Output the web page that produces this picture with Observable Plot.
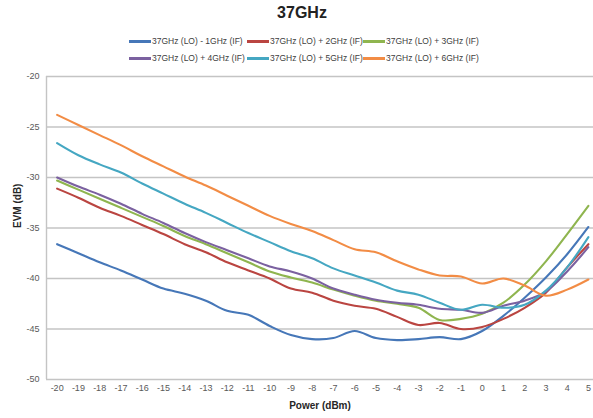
<!DOCTYPE html>
<html>
<head>
<meta charset="utf-8">
<script src="https://cdn.jsdelivr.net/npm/d3@7"></script>
<script src="https://cdn.jsdelivr.net/npm/@observablehq/plot@0.6"></script>
<style>
  html, body { margin: 0; padding: 0; background: #fff; }
  #wrap { position: relative; width: 593px; height: 418px; font-family: "Liberation Sans", Arial, sans-serif; overflow: hidden; }
  #title { position: absolute; left: 0; width: 604px; top: 4px; text-align: center; font-weight: bold; font-size: 16px; color: #222; }
  .leg { position: absolute; height: 12px; font-size: 8.5px; color: #404040; white-space: nowrap; }
  .leg .sw { position: absolute; left: 0; top: 5px; width: 22px; height: 3px; }
  .leg .tx { position: absolute; left: 23px; top: 0; line-height: 12px; }
  #chart { position: absolute; left: 0; top: 66px; }
</style>
</head>
<body>
<div id="wrap">
  <div id="title">37GHz</div>
  <div id="legend"></div>
  <div id="chart"></div>
</div>
<script>
const powers = [-20,-19,-18,-17,-16,-15,-14,-13,-12,-11,-10,-9,-8,-7,-6,-5,-4,-3,-2,-1,0,1,2,3,4,5];
const seriesNames = [
  "37GHz (LO) - 1GHz (IF)",
  "37GHz (LO) + 2GHz (IF)",
  "37GHz (LO) + 3GHz (IF)",
  "37GHz (LO) + 4GHz (IF)",
  "37GHz (LO) + 5GHz (IF)",
  "37GHz (LO) + 6GHz (IF)"
];
const seriesColors = ["#4677B8", "#BA4541", "#8FB54F", "#7B61A0", "#45A7C2", "#F28C45"];
const evm1GHz = [-36.6,-37.5,-38.4,-39.2,-40.1,-41.0,-41.5,-42.2,-43.2,-43.6,-44.7,-45.6,-46.0,-45.9,-45.2,-45.9,-46.1,-46.0,-45.8,-46.0,-45.2,-43.7,-41.9,-39.9,-37.6,-34.9];
const evm2GHz = [-31.1,-32.0,-33.0,-33.8,-34.7,-35.6,-36.6,-37.4,-38.4,-39.2,-40.0,-41.0,-41.4,-42.2,-42.7,-43.0,-43.8,-44.6,-44.4,-45.0,-44.8,-44.0,-42.9,-41.4,-38.9,-36.6];
const evm3GHz = [-30.3,-31.2,-32.1,-33.0,-33.9,-34.8,-35.8,-36.6,-37.5,-38.4,-39.3,-39.9,-40.4,-41.1,-41.7,-42.2,-42.5,-42.9,-44.1,-44.0,-43.5,-42.4,-40.6,-38.3,-35.6,-32.8];
const evm4GHz = [-30.0,-30.9,-31.7,-32.6,-33.6,-34.5,-35.5,-36.4,-37.2,-38.0,-38.8,-39.3,-40.0,-41.0,-41.6,-42.1,-42.4,-42.6,-43.0,-43.1,-43.4,-42.7,-42.2,-41.3,-39.3,-36.9];
const evm5GHz = [-26.6,-27.8,-28.7,-29.5,-30.6,-31.6,-32.6,-33.5,-34.5,-35.5,-36.4,-37.3,-38.0,-39.0,-39.7,-40.4,-41.2,-41.6,-42.4,-43.1,-42.6,-42.9,-42.6,-41.2,-38.9,-35.9];
const evm6GHz = [-23.8,-24.8,-25.8,-26.8,-27.9,-28.9,-29.9,-30.8,-31.8,-32.8,-33.8,-34.6,-35.3,-36.2,-37.1,-37.4,-38.3,-39.1,-39.7,-39.8,-40.5,-40.0,-40.7,-41.7,-41.1,-40.1];
const yTicks = [-20,-25,-30,-35,-40,-45,-50];

const allSeries = [evm1GHz, evm2GHz, evm3GHz, evm4GHz, evm5GHz, evm6GHz];
const rows = [];
allSeries.forEach((vals, i) => vals.forEach((v, j) => rows.push({power: powers[j], evm: v, series: seriesNames[i]})));

// legend
const legendCols = [129, 247, 363];
const legendRows = [35, 52];
const legend = document.getElementById("legend");
seriesNames.forEach((name, i) => {
  const d = document.createElement("div");
  d.className = "leg";
  d.style.left = legendCols[i % 3] + "px";
  d.style.top = legendRows[Math.floor(i / 3)] + "px";
  d.innerHTML = `<div class="sw" style="background:${seriesColors[i]}"></div><div class="tx">${name}</div>`;
  legend.appendChild(d);
});

const plot = Plot.plot({
  width: 593,
  height: 352,
  marginTop: 10,
  marginBottom: 39,
  marginLeft: 46,
  marginRight: 0,
  style: {fontFamily: "'Liberation Sans', Arial, sans-serif", fontSize: "9px", color: "#595959", background: "#fff"},
  x: {domain: [-20.5, 5.24], label: null},
  y: {domain: [-50, -20], label: null},
  color: {domain: seriesNames, range: seriesColors},
  marks: [
    Plot.ruleY(yTicks, {stroke: "#c4c4c4", strokeWidth: 1.4}),
    Plot.ruleX([-20.5], {y1: -50, y2: -20, stroke: "#c4c4c4", strokeWidth: 1.4}),
    Plot.axisX({ticks: powers, tickFormat: d => String(d), tickSize: 0, tickPadding: 5, fill: "#595959"}),
    Plot.axisY({ticks: yTicks, tickFormat: d => String(d), tickSize: 0, tickPadding: 7, fill: "#595959"}),
    Plot.line(rows, {x: "power", y: "evm", z: "series", stroke: "series", strokeWidth: 2.1, curve: "catmull-rom"}),
    Plot.text(["Power (dBm)"], {frameAnchor: "bottom", dy: 29, fontWeight: "bold", fontSize: 10, fill: "#262626"}),
    Plot.text(["EVM (dB)"], {frameAnchor: "left", dx: -29, rotate: -90, fontWeight: "bold", fontSize: 10, fill: "#262626"})
  ]
});
document.getElementById("chart").appendChild(plot);
</script>
</body>
</html>
